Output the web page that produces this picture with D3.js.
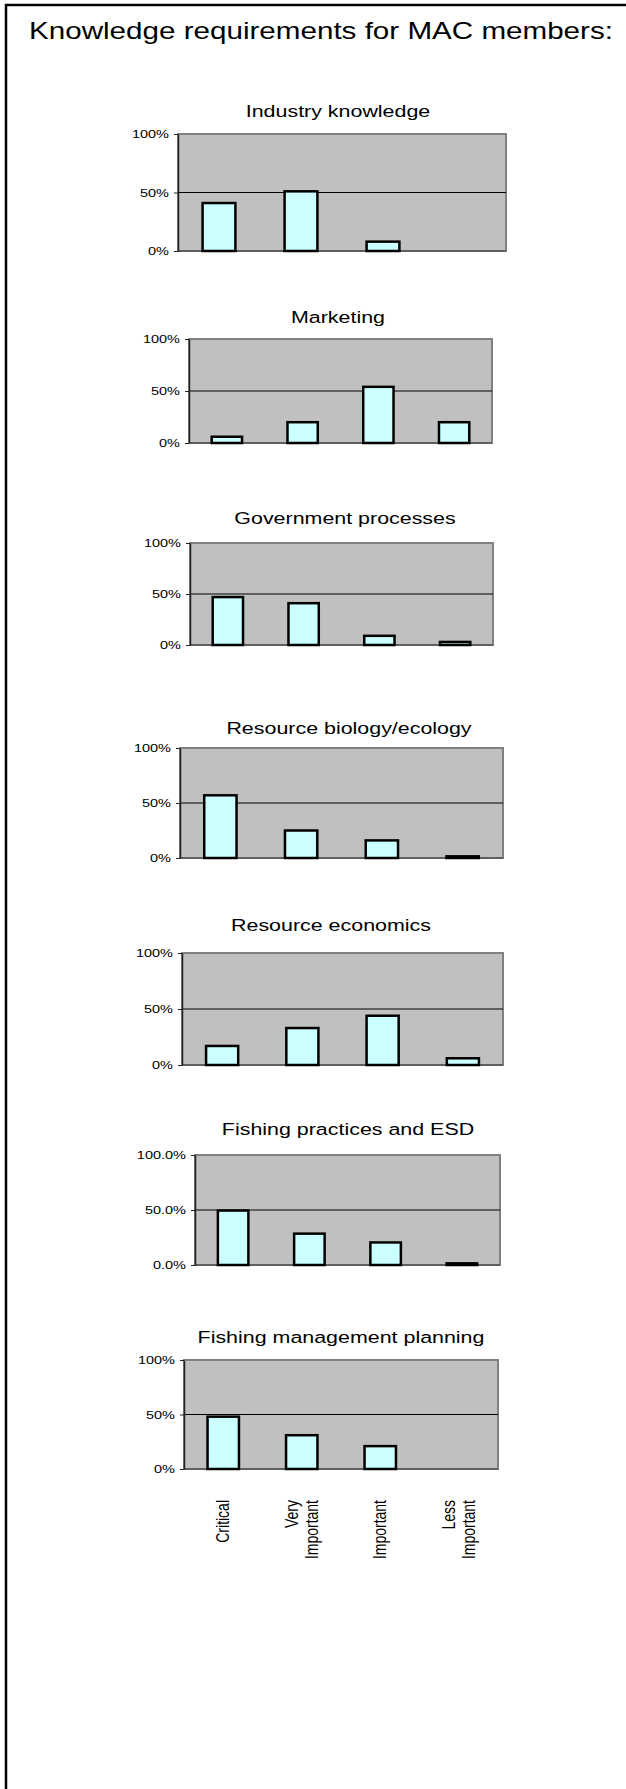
<!DOCTYPE html>
<html>
<head>
<meta charset="utf-8">
<script src="https://cdn.jsdelivr.net/npm/d3@7"></script>
<style>
  body { margin: 0; background: #fff; }
  text { font-family: Arial, 'Liberation Sans', sans-serif; fill: #000; }
</style>
</head>
<body>
<div id="page"></div>
<script>
const pageTitle = 'Knowledge requirements for MAC members:';
const categories = ['Critical', 'Very\nImportant', 'Important', 'Less\nImportant'];
const chartTitles = [
  'Industry knowledge',
  'Marketing',
  'Government processes',
  'Resource biology/ecology',
  'Resource economics',
  'Fishing practices and ESD',
  'Fishing management planning',
];

// share of respondents per importance level
const industryKnowledge = [0.41, 0.51, 0.08, 0];
const marketing = [0.06, 0.20, 0.54, 0.20];
const governmentProcesses = [0.47, 0.41, 0.09, 0.03];
const resourceBiology = [0.57, 0.25, 0.16, 0.015];
const resourceEconomics = [0.17, 0.33, 0.44, 0.06];
const fishingPractices = [0.495, 0.285, 0.205, 0.015];
const fishingManagement = [0.48, 0.31, 0.21, 0];

const seriesList = [industryKnowledge, marketing, governmentProcesses, resourceBiology,
  resourceEconomics, fishingPractices, fishingManagement];
const tickValues = [0, 0.5, 1];
const tickFormats = ['.0%', '.0%', '.0%', '.0%', '.0%', '.1%', '.0%'];

// where each little chart sits on the page
const boxes = [
  { left: 178, right: 506, top: 134, bottom: 251, titleX: 338, titleY: 117 },
  { left: 189, right: 492, top: 339, bottom: 443, titleX: 338, titleY: 323 },
  { left: 190, right: 493, top: 543, bottom: 645, titleX: 345, titleY: 524 },
  { left: 180, right: 503, top: 748, bottom: 858, titleX: 349, titleY: 734 },
  { left: 182, right: 503, top: 953, bottom: 1065, titleX: 331, titleY: 931 },
  { left: 195, right: 500, top: 1155, bottom: 1265, titleX: 348, titleY: 1135 },
  { left: 184, right: 498, top: 1360, bottom: 1469, titleX: 341, titleY: 1343 },
];

// the source picture is stretched sideways, so text gets widened too
const stretch = 1.26;

const svg = d3.select('#page')
  .append('svg')
  .attr('width', 626)
  .attr('height', 1789);

// page frame (left and top edges only)
svg.append('line')
  .attr('x1', 6).attr('x2', 6)
  .attr('y1', 4).attr('y2', 1789)
  .attr('stroke', '#000')
  .attr('stroke-width', 2.5);
svg.append('line')
  .attr('x1', 5).attr('x2', 626)
  .attr('y1', 5).attr('y2', 5)
  .attr('stroke', '#000')
  .attr('stroke-width', 2.5);

svg.append('text')
  .attr('transform', `translate(29,39) scale(${stretch},1)`)
  .style('font-size', '23.5px')
  .text(pageTitle);

function drawChart(index) {
  const box = boxes[index];
  const values = seriesList[index];
  const w = box.right - box.left;
  const h = box.bottom - box.top;

  svg.append('text')
    .attr('transform', `translate(${box.titleX},${box.titleY}) scale(${stretch},1)`)
    .attr('text-anchor', 'middle')
    .style('font-size', '17px')
    .text(chartTitles[index]);

  const g = svg.append('g')
    .attr('transform', `translate(${box.left},${box.top})`);

  const x = d3.scaleBand()
    .domain(categories)
    .range([0, w])
    .paddingInner(0.6)
    .paddingOuter(0.3);

  const y = d3.scaleLinear()
    .domain([0, 1])
    .range([h, 0]);

  g.append('rect')
    .attr('width', w)
    .attr('height', h)
    .attr('fill', '#c0c0c0')
    .attr('stroke', '#808080')
    .attr('stroke-width', 2);

  g.append('line')
    .attr('x1', 0).attr('x2', w)
    .attr('y1', y(0.5)).attr('y2', y(0.5))
    .attr('stroke', '#000')
    .attr('stroke-width', 1);

  g.append('line')
    .attr('x1', 0).attr('x2', w)
    .attr('y1', h).attr('y2', h)
    .attr('stroke', '#555')
    .attr('stroke-width', 1.5);

  const yAxis = d3.axisLeft(y)
    .tickValues(tickValues)
    .tickSize(4)
    .tickSizeOuter(0)
    .tickPadding(5)
    .tickFormat(d3.format(tickFormats[index]));

  const yAxisG = g.append('g')
    .attr('font-size', null)
    .attr('font-family', null)
    .call(yAxis);
  yAxisG.select('.domain')
    .attr('stroke', '#222')
    .attr('stroke-width', 1.5);
  yAxisG.selectAll('.tick line').attr('stroke', '#222');
  yAxisG.selectAll('.tick text')
    .attr('x', null)
    .attr('transform', `translate(-9,0) scale(${stretch},1)`)
    .style('font-size', '11.5px')
    .attr('fill', '#000');

  const bars = values
    .map((v, i) => ({ cat: categories[i], v }))
    .filter((d) => d.v > 0);

  g.selectAll('.bar')
    .data(bars)
    .join('rect')
    .attr('class', 'bar')
    .attr('x', (d) => x(d.cat))
    .attr('y', (d) => y(d.v))
    .attr('width', x.bandwidth())
    .attr('height', (d) => h - y(d.v))
    .attr('fill', '#ccffff')
    .attr('stroke', '#000')
    .attr('stroke-width', 2.5);

  // category names only under the last chart
  if (index === boxes.length - 1) {
    categories.forEach((cat) => {
      const lines = cat.split('\n');
      lines.forEach((line, j) => {
        const cx = x(cat) + x.bandwidth() / 2 + (j - (lines.length - 1) / 2) * 20;
        g.append('text')
          .attr('transform', `translate(${cx},${h + 31}) scale(${stretch},1) rotate(-90)`)
          .attr('text-anchor', 'end')
          .attr('dy', '0.35em')
          .style('font-size', '14px')
          .text(line);
      });
    });
  }
}

boxes.forEach((b, i) => drawChart(i));
</script>
</body>
</html>
